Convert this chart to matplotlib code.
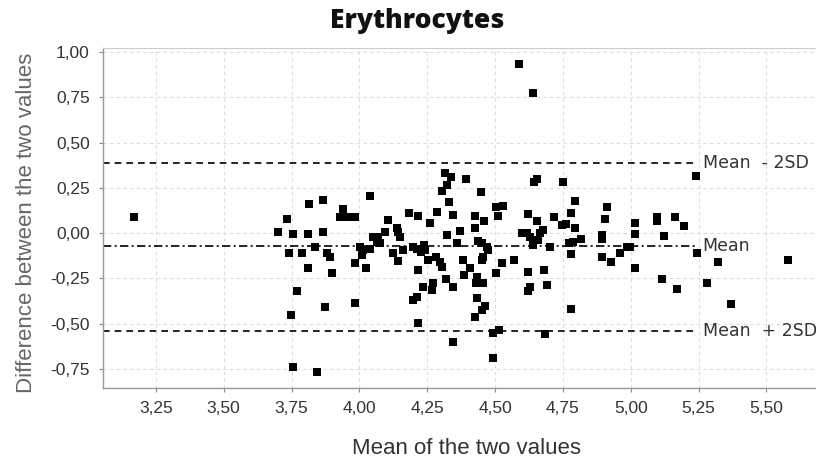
import matplotlib
matplotlib.use('Agg')
from matplotlib import pyplot as plt
from matplotlib.ticker import FuncFormatter

plt.rcParams['font.family'] = ['Liberation Sans', 'DejaVu Sans']

# Bland-Altman data
mean_vals = [3.170, 4.587, 4.641, 5.239, 5.580, 5.323, 5.281, 5.371, 5.246, 5.197,
             5.164, 5.098, 5.098, 5.121, 5.115, 5.170, 5.017, 5.017, 5.017, 4.986,
             4.998, 4.961, 4.927, 4.893, 4.893, 4.893, 4.914, 4.906, 4.795, 4.780,
             4.746, 4.760, 4.795, 4.816, 4.789, 4.774, 4.780, 4.780, 4.752, 4.718,
             4.703, 4.676, 4.666, 4.660, 4.641, 4.641, 4.629, 4.616, 4.598, 4.656,
             4.623, 4.644, 4.656, 4.623, 4.679, 4.629, 4.623, 4.691, 4.684, 4.571,
             4.525, 4.504, 4.502, 4.531, 4.510, 4.492, 4.516, 4.494, 4.461, 4.426,
             4.426, 4.448, 4.438, 4.451, 4.469, 4.475, 4.451, 4.457, 4.433, 4.429,
             4.438, 4.457, 4.433, 4.462, 4.451, 4.426, 4.408, 4.386, 4.381, 4.392,
             4.371, 4.359, 4.344, 4.344, 4.344, 4.337, 4.316, 4.322, 4.303, 4.330,
             4.322, 4.319, 4.303, 4.297, 4.282, 4.287, 4.272, 4.267, 4.261, 4.254,
             4.242, 4.238, 4.233, 4.227, 4.217, 4.217, 4.217, 4.214, 4.211, 4.199,
             4.199, 4.184, 4.162, 4.150, 4.143, 4.137, 4.143, 4.125, 4.106, 4.094,
             4.076, 4.070, 4.064, 4.052, 4.039, 4.039, 4.024, 4.014, 4.002, 4.008,
             3.984, 3.984, 3.984, 3.953, 3.928, 3.941, 3.892, 3.898, 3.879, 3.865,
             3.815, 3.734, 3.699, 3.754, 3.809, 3.865, 3.740, 3.787, 3.836, 3.809,
             3.769, 3.747, 3.873, 3.754, 3.844]
diff_vals = [0.090, 0.934, 0.775, 0.317, -0.151, -0.162, -0.276, -0.391, -0.109, 0.039,
             0.090, 0.087, 0.068, -0.015, -0.256, -0.308, 0.057, -0.006, -0.193, -0.076,
             -0.076, -0.109, -0.162, -0.131, -0.011, -0.035, 0.142, 0.077, 0.178, 0.109,
             0.044, 0.052, 0.026, -0.035, -0.048, -0.057, -0.118, -0.422, 0.284, 0.090,
             -0.076, 0.017, -0.002, -0.039, -0.039, -0.066, -0.020, -0.002, -0.002, 0.068,
             0.103, 0.280, 0.297, -0.214, -0.204, -0.300, -0.319, -0.287, -0.558, -0.149,
             -0.164, -0.223, 0.142, 0.151, 0.094, -0.551, -0.536, -0.692, 0.068, 0.094,
             0.026, 0.225, -0.042, -0.057, -0.076, -0.094, -0.149, -0.131, -0.241, -0.275,
             -0.278, -0.275, -0.361, -0.403, -0.425, -0.462, -0.195, -0.232, -0.149, 0.297,
             0.013, -0.057, -0.600, -0.300, 0.099, 0.308, 0.330, 0.265, 0.234, 0.170,
             -0.011, -0.256, -0.186, -0.159, -0.131, 0.118, -0.275, -0.315, 0.057, -0.149,
             -0.094, -0.066, -0.300, -0.103, 0.094, -0.204, -0.496, -0.090, -0.352, -0.370,
             -0.076, 0.112, -0.094, -0.024, 0.007, 0.026, -0.153, -0.112, 0.072, 0.007,
             -0.057, -0.024, -0.048, -0.024, 0.204, -0.090, -0.195, -0.094, -0.076, -0.122,
             -0.168, -0.388, 0.087, 0.087, 0.090, 0.131, -0.131, -0.223, -0.112, 0.182,
             0.160, 0.077, 0.004, -0.006, -0.006, 0.004, -0.109, -0.109, -0.079, -0.195,
             -0.319, -0.453, -0.411, -0.742, -0.766]

mean_diff = -0.072
upper_lim = 0.385
lower_lim = -0.541
line_end = 5.245

x_ticks = [3.25, 3.50, 3.75, 4.00, 4.25, 4.50, 4.75, 5.00, 5.25, 5.50]
y_ticks = [-0.75, -0.50, -0.25, 0.00, 0.25, 0.50, 0.75, 1.00]

fig = plt.figure(figsize=(8.16, 4.61), dpi=100)
ax = fig.add_axes([103 / 816, 73 / 461, 1 - 103 / 816, (388 - 48) / 461])

ax.set_xlim(3.055, 5.683)
ax.set_ylim(-0.856, 1.022)
ax.set_xticks(x_ticks)
ax.set_yticks(y_ticks)
comma = FuncFormatter(lambda v, p: ('%.2f' % v).replace('.', ','))
ax.xaxis.set_major_formatter(comma)
ax.yaxis.set_major_formatter(comma)
ax.tick_params(length=3, width=0.8, color='#888888', labelsize=12.5, labelcolor='#333333', pad=6.5)

ax.grid(True, color='#dcdcdc', linestyle=(0, (3, 3)), linewidth=0.8)
ax.set_axisbelow(True)
for s in ['left', 'bottom']:
    ax.spines[s].set_color('#999999')
    ax.spines[s].set_linewidth(1.0)
ax.spines['top'].set_color('#cccccc')
ax.spines['right'].set_visible(False)

ax.scatter(mean_vals, diff_vals, marker='s', s=26, color='black', linewidths=0, zorder=3)

x0 = ax.get_xlim()[0]
ax.plot([x0, line_end], [upper_lim, upper_lim], color='black', lw=1.2, dashes=(4, 3))
ax.plot([x0, line_end], [lower_lim, lower_lim], color='black', lw=1.2, dashes=(4, 3))
ax.plot([x0, line_end], [mean_diff, mean_diff], color='black', lw=1.2, dashes=(5, 2, 1.2, 2))

for yv, txt in [(upper_lim, 'Mean  - 2SD'), (mean_diff, 'Mean'), (lower_lim, 'Mean  + 2SD')]:
    ax.text(line_end + 0.02, yv, txt, fontsize=12.5, family='DejaVu Sans',
            color='#333333', va='center', ha='left')

fig.text(417 / 816, 1 - 28 / 461, 'Erythrocytes', fontsize=19, fontweight='heavy',
         family='Open Sans', color='#111111', ha='center', va='baseline')
fig.text(467 / 816, 1 - 454 / 461, 'Mean of the two values', fontsize=16,
         color='#333333', ha='center', va='baseline')
fig.text(32 / 816, 1 - 223 / 461, 'Difference between the two values', fontsize=16,
         color='#666666', ha='center', va='baseline',
         rotation=90, rotation_mode='anchor')

plt.savefig('out.png', dpi=100)
